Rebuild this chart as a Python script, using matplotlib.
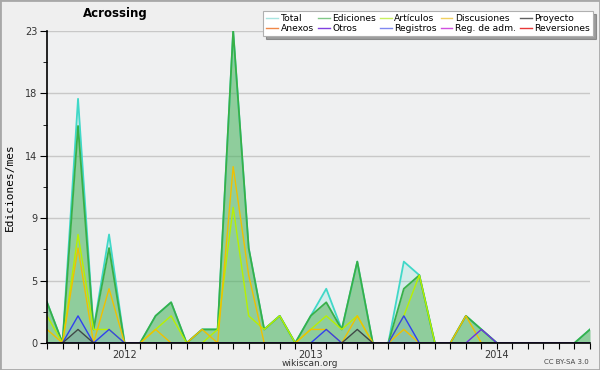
import matplotlib
matplotlib.use("Agg")
import matplotlib.pyplot as plt
from matplotlib.lines import Line2D
import numpy as np

# meses de ago 2011 a jul 2014
meses = np.arange(36)
anos = ["2012", "2013", "2014"]
pos_anos = [5, 17, 29]

total =       [3, 0, 18, 1, 8, 0, 0, 2, 3, 0, 1, 1, 23, 7, 1, 2, 0, 2, 4, 1, 6, 0, 0, 6, 5, 0, 0, 2, 1, 0, 0, 0, 0, 0, 0, 1]
ediciones =   [3, 0, 16, 1, 7, 0, 0, 2, 3, 0, 1, 1, 23, 7, 1, 2, 0, 2, 3, 1, 6, 0, 0, 4, 5, 0, 0, 2, 1, 0, 0, 0, 0, 0, 0, 1]
articulos =   [2, 0, 8, 1, 1, 0, 0, 1, 2, 0, 0, 1, 10, 2, 1, 2, 0, 1, 2, 1, 2, 0, 0, 2, 5, 0, 0, 0, 0, 0, 0, 0, 0, 0, 0, 0]
discusiones = [1, 0, 7, 0, 4, 0, 0, 1, 0, 0, 1, 0, 13, 5, 0, 0, 0, 1, 1, 0, 2, 0, 0, 1, 0, 0, 0, 2, 0, 0, 0, 0, 0, 0, 0, 0]
registros =   [0, 0, 2, 0, 1, 0, 0, 0, 0, 0, 0, 0, 0, 0, 0, 0, 0, 0, 1, 0, 0, 0, 0, 2, 0, 0, 0, 0, 0, 0, 0, 0, 0, 0, 0, 0]
proyecto =    [0, 0, 1, 0, 0, 0, 0, 0, 0, 0, 0, 0, 0, 0, 0, 0, 0, 0, 0, 0, 1, 0, 0, 0, 0, 0, 0, 0, 0, 0, 0, 0, 0, 0, 0, 0]
otros =       [0, 0, 0, 0, 0, 0, 0, 0, 0, 0, 0, 0, 0, 0, 0, 0, 0, 0, 0, 0, 0, 0, 0, 0, 0, 0, 0, 0, 1, 0, 0, 0, 0, 0, 0, 0]

ymax = 23

fig = plt.figure(figsize=(6, 3.7), dpi=100, facecolor="#efefef")
fig.patches.append(plt.Rectangle((0, 0), 1, 1, transform=fig.transFigure,
                                 fill=False, edgecolor="#a8a8a8", linewidth=2))
ax = fig.add_axes([47/600, 27/370, 543/600, 312/370])
ax.set_facecolor("#eff0f1")

# series
ax.fill_between(meses, total, color="#40d8c8", alpha=0.15, linewidth=0)
ax.plot(meses, total, color="#40d8c8", linewidth=1.3)
ax.fill_between(meses, ediciones, color="#4caf50", alpha=0.5, linewidth=0)
ax.plot(meses, ediciones, color="#38b048", linewidth=1.3)
ax.fill_between(meses, registros, color="#6080ff", alpha=0.12, linewidth=0)
ax.fill_between(meses, proyecto, color="#606060", alpha=0.12, linewidth=0)
ax.plot(meses, articulos, color="#b8f000", linewidth=1)
ax.plot(meses, discusiones, color="#f0c000", linewidth=1)
ax.plot(meses, registros, color="#3040f0", linewidth=1)
ax.plot(meses, proyecto, color="#404848", linewidth=1)
ax.plot(meses, otros, color="#7030e0", linewidth=1)

ax.set_xlim(0, 35)
ax.set_ylim(0, ymax)

yt = [ymax * k / 5 for k in range(6)]
ax.set_yticks(yt)
ax.set_yticklabels([str(int(round(v))) for v in yt])
ax.set_yticks([ymax * k / 10 for k in range(1, 10, 2)], minor=True)
ax.set_xticks(meses)
ax.set_xticklabels([anos[pos_anos.index(m)] if m in pos_anos else "" for m in meses])
ax.tick_params(axis="both", labelsize=7, labelcolor="#333333", direction="out")
ax.tick_params(axis="y", which="major", length=5, pad=2)
ax.tick_params(axis="y", which="minor", length=3)
ax.tick_params(axis="x", length=4, pad=1)
ax.grid(axis="y", color="#c8c8c8", linewidth=1)
ax.set_axisbelow(True)
for s in ["top", "right"]:
    ax.spines[s].set_visible(False)
for s in ["left", "bottom"]:
    ax.spines[s].set_zorder(10)
    ax.spines[s].set_linewidth(1.2)

ax.set_ylabel("Ediciones/mes", fontsize=8, family="DejaVu Sans Mono", labelpad=7)

fig.text(115/600, 1 - 14/370, "Acrossing", fontsize=8.5, fontweight="bold",
         ha="center", va="center")
fig.text(310/600, 1 - 363/370, "wikiscan.org", fontsize=6.5, color="#333333",
         ha="center", va="center")
fig.text(589/600, 1 - 362/370, "CC BY-SA 3.0", fontsize=5, color="#444444",
         ha="right", va="center")

# leyenda
nombres = ["Total", "Anexos", "Ediciones", "Otros", "Artículos", "Registros",
           "Discusiones", "Reg. de adm.", "Proyecto", "Reversiones"]
colores = ["#a8e4e0", "#f08848", "#80c888", "#8040e0", "#c8f060", "#8088f0",
           "#f0d060", "#d050e0", "#606060", "#e83838"]
handles = [Line2D([], [], color=c, linewidth=1) for c in colores]
leg = fig.legend(handles, nombres, ncol=5, loc="upper right",
                 bbox_to_anchor=(593/600, 1 - 11/370), fontsize=6.6,
                 frameon=True, fancybox=False, shadow=True, handlelength=1.3,
                 handletextpad=0.3, columnspacing=0.4, labelspacing=0.15,
                 borderpad=0.3, borderaxespad=0)
leg.get_frame().set_edgecolor("#b0b0b0")
leg.get_frame().set_linewidth(0.8)

fig.savefig("out.png", dpi=100, facecolor=fig.get_facecolor())
